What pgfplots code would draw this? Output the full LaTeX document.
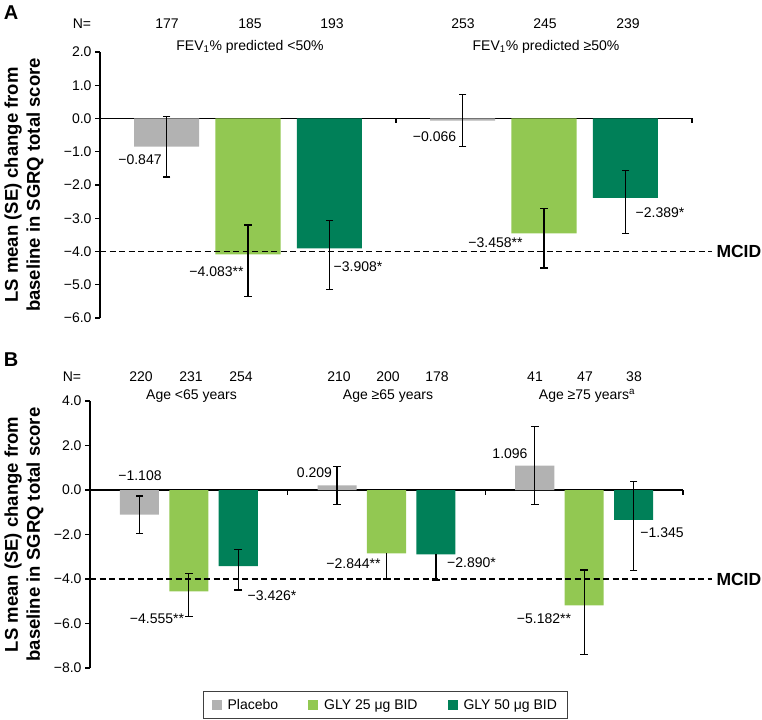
\documentclass[border=0pt]{standalone}
\usepackage{fontspec}
\setmainfont{Liberation Sans}
\usepackage{pgfplots}
\pgfplotsset{compat=1.18}
\definecolor{plac}{RGB}{178,178,178}
\definecolor{glyA}{RGB}{146,200,82}
\definecolor{glyB}{RGB}{0,128,88}
\newcommand\f{\fontsize{14bp}{16.8bp}\selectfont}
\newcommand\fb{\fontsize{18.5bp}{22bp}\selectfont\bfseries}
\pgfplotsset{
  mybase/.style={
    scale only axis,
    axis x line=middle, axis y line=left,
    axis line style={-, line width=1.2bp, black},
    tick align=outside,
    major tick length=5bp,
    tick style={line width=1.2bp, black},
    xtick=\empty,
    clip=false,
    yticklabel style={font=\f},
    unbounded coords=jump,
  },
  mybar/.style={ybar, bar width=#1, bar shift=0pt, draw=none},
  myerr/.style={black, solid, line width=1.3bp, forget plot,
    mark=-, mark size=3.8bp, mark options={solid, black, line width=1.3bp}},
  mytick/.style={black, solid, line width=1.2bp, forget plot, mark=none},
  mcid/.style={black, line width=1.1bp, dash pattern=on 6bp off 3.5bp, forget plot},
}
\begin{document}
\begin{tikzpicture}
\path[use as bounding box] (0,0) rectangle (762bp,720bp);

% ---------------- Panel A ----------------
\begin{axis}[mybase, at={(100bp,402bp)}, anchor=south west,
  width=592bp, height=266bp,
  xmin=0, xmax=8, ymin=-6, ymax=2,
  ytick={-6,-5,-4,-3,-2,-1,0,1,2},
  yticklabels={−6.0,−5.0,−4.0,−3.0,−2.0,−1.0,0.0,1.0,2.0}]
\addplot[mybar=0.88, fill=plac] coordinates {(0.9,-0.847) (4.9,-0.066)};
\addplot[mybar=0.88, fill=glyA] coordinates {(2,-4.083) (6,-3.458)};
\addplot[mybar=0.88, fill=glyB] coordinates {(3.1,-3.908) (7.1,-2.389)};
\addplot[mcid] coordinates {(0,-4) (8.27,-4)};
% error bars: (x, upper) (x, lower)
\addplot[myerr] coordinates {
  (0.9,0.07) (0.9,-1.76) (0.9,nan)
  (4.9,0.72) (4.9,-0.85) (4.9,nan)
  (2,-3.20) (2,-5.36) (2,nan)
  (6,-2.70) (6,-4.50) (6,nan)
  (3.1,-3.07) (3.1,-5.15) (3.1,nan)
  (7.1,-1.57) (7.1,-3.45)
};
% x-axis ticks
\addplot[mytick] coordinates {(4,0) (4,-0.15) (4,nan) (8,0) (8,-0.15)};
\end{axis}

% ---------------- Panel B ----------------
\begin{axis}[mybase, at={(90bp,52bp)}, anchor=south west,
  width=593bp, height=267bp,
  xmin=0, xmax=12, ymin=-8, ymax=4,
  ytick={-8,-6,-4,-2,0,2,4},
  yticklabels={−8.0,−6.0,−4.0,−2.0,0.0,2.0,4.0},
  legend style={at={(0.498,-0.1386)}, anchor=center, legend columns=3,
    draw=black!75, line width=0.8bp, font=\f,
    inner xsep=8bp, inner ysep=5.5bp,
    /tikz/every even column/.append style={column sep=28bp}},
  legend image code/.code={\fill[#1] (0bp,-5bp) rectangle (10bp,5bp); \path (14bp,0bp);}]
\addplot[mybar=0.79, fill=plac] coordinates {(1,-1.108) (5,0.209) (9,1.096)};
\addlegendentry{Placebo}
\addplot[mybar=0.79, fill=glyA] coordinates {(2,-4.555) (6,-2.844) (10,-5.182)};
\addlegendentry{GLY 25 μg BID}
\addplot[mybar=0.79, fill=glyB] coordinates {(3,-3.426) (7,-2.890) (11,-1.345)};
\addlegendentry{GLY 50 μg BID}
\addplot[mcid] coordinates {(0,-4) (12.59,-4)};
\addplot[myerr] coordinates {
  (1,-0.27) (1,-1.94) (1,nan)
  (5,1.05) (5,-0.64) (5,nan)
  (9,2.85) (9,-0.64) (9,nan)
  (2,-3.75) (2,-5.68) (2,nan)
  (10,-3.60) (10,-7.40) (10,nan)
  (3,-2.66) (3,-4.50) (3,nan)
  (11,0.37) (11,-3.63)
};
% one-sided error bars (lower half only)
\addplot[myerr, mark indices={2,5}] coordinates {
  (6,-2.844) (6,-4.00) (6,nan)
  (7,-2.890) (7,-4.05)
};
\addplot[mytick] coordinates {(4,0) (4,-0.225) (4,nan) (8,0) (8,-0.225) (8,nan) (12,0) (12,-0.225)};
\end{axis}

% ---------------- Texts ----------------
\node[font=\fontsize{20bp}{22bp}\selectfont\bfseries] at (11bp,707bp) {A};
\node[font=\fontsize{20bp}{22bp}\selectfont\bfseries] at (11bp,360bp) {B};

\node[font=\fb, rotate=90, align=center] at (24bp,535bp) {LS mean (SE) change from\\baseline in SGRQ total score};
\node[font=\fb, rotate=90, align=center] at (24bp,185.5bp) {LS mean (SE) change from\\baseline in SGRQ total score};

\node[font=\fontsize{17.5bp}{20bp}\selectfont\bfseries, anchor=west] at (713bp,468.4bp) {MCID};
\node[font=\fontsize{17.5bp}{20bp}\selectfont\bfseries, anchor=west] at (713bp,141bp) {MCID};

% header A
\node[font=\f] at (82bp,696bp) {N=};
\node[font=\f] at (167bp,696bp) {177};
\node[font=\f] at (250bp,696bp) {185};
\node[font=\f] at (332bp,696bp) {193};
\node[font=\f] at (463bp,696bp) {253};
\node[font=\f] at (545bp,696bp) {245};
\node[font=\f] at (628bp,696bp) {239};
\node[font=\f] at (250bp,673bp) {FEV\textsubscript{1}\% predicted <50\%};
\node[font=\f] at (546bp,673bp) {FEV\textsubscript{1}\% predicted ≥50\%};

% header B
\node[font=\f] at (72bp,343bp) {N=};
\node[font=\f] at (141bp,343bp) {220};
\node[font=\f] at (191bp,343bp) {231};
\node[font=\f] at (241bp,343bp) {254};
\node[font=\f] at (339bp,343bp) {210};
\node[font=\f] at (388bp,343bp) {200};
\node[font=\f] at (437bp,343bp) {178};
\node[font=\f] at (535bp,343bp) {41};
\node[font=\f] at (585bp,343bp) {47};
\node[font=\f] at (634bp,343bp) {38};
\node[font=\f] at (191.5bp,324bp) {Age <65 years};
\node[font=\f] at (388bp,324bp) {Age ≥65 years};
\node[font=\f] at (587bp,324bp) {Age ≥75 years\textsuperscript{a}};

% value labels A
\node[font=\f] at (140bp,560bp) {−0.847};
\node[font=\f] at (216.5bp,448.3bp) {−4.083**};
\node[font=\f] at (358bp,453.3bp) {−3.908*};
\node[font=\f] at (434.5bp,583bp) {−0.066};
\node[font=\f] at (495.5bp,477bp) {−3.458**};
\node[font=\f] at (660bp,507.3bp) {−2.389*};

% value labels B
\node[font=\f] at (140bp,244bp) {−1.108};
\node[font=\f] at (314.5bp,247bp) {0.209};
\node[font=\f] at (510bp,266bp) {1.096};
\node[font=\f] at (157bp,101bp) {−4.555**};
\node[font=\f] at (272bp,124bp) {−3.426*};
\node[font=\f] at (353.5bp,156bp) {−2.844**};
\node[font=\f] at (471.5bp,157bp) {−2.890*};
\node[font=\f] at (544bp,101bp) {−5.182**};
\node[font=\f] at (662bp,187bp) {−1.345};
\end{tikzpicture}
\end{document}
